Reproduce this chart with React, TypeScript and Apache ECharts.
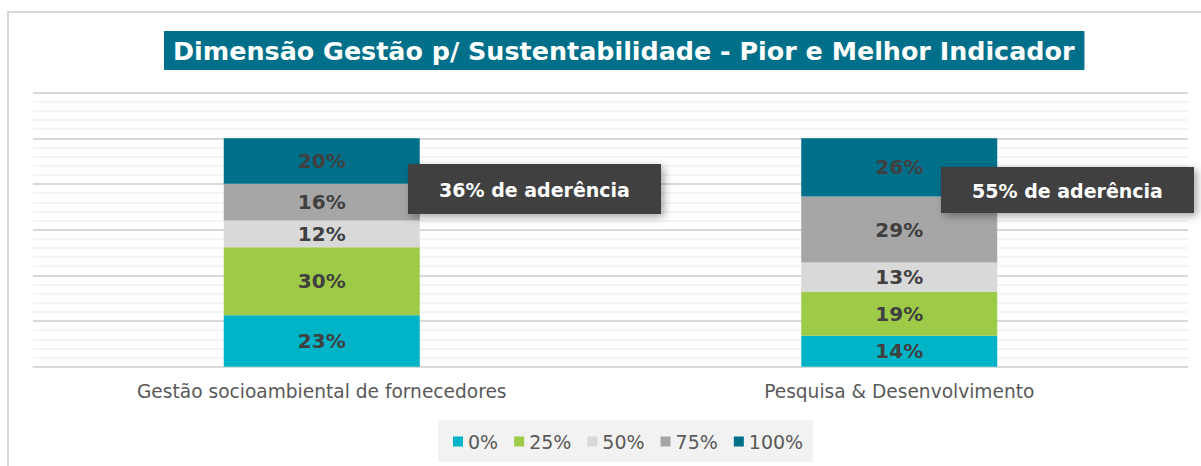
import React, { useEffect, useRef } from "react";
import * as echarts from "echarts";

const categories = ["Gestão socioambiental de fornecedores", "Pesquisa & Desenvolvimento"];
const seriesNames = ["0%", "25%", "50%", "75%", "100%"];
const values0 = [22.5, 13.6];
const values25 = [29.8, 19.1];
const values50 = [11.7, 12.9];
const values75 = [16.1, 28.9];
const values100 = [19.9, 25.5];
const adherence = [36, 55];
const colors = ["#00b4c8", "#9ecb47", "#d9d9d9", "#a6a6a6", "#00708a"];
const titleText = "Dimensão Gestão p/ Sustentabilidade - Pior e Melhor Indicador";

const FONT = "DejaVu Sans";

export default function App() {
  const ref = useRef<HTMLDivElement>(null);
  useEffect(() => {
    if (!ref.current) return;
    const chart = echarts.init(ref.current, undefined, { renderer: "svg" });
    const allValues = [values0, values25, values50, values75, values100];
    const series = seriesNames.map((name, i) => ({
      name,
      type: "bar",
      stack: "total",
      barWidth: 196,
      data: allValues[i],
      itemStyle: { color: colors[i] },
      label: {
        show: true,
        position: "inside",
        color: "#404040",
        fontFamily: FONT,
        fontWeight: "bold",
        fontSize: 20,
        formatter: (p: any) => Math.round(p.value) + "%",
      },
    }));
    const boxes = [
      { x: 408, y: 164, w: 253, h: 50 },
      { x: 941, y: 167, w: 253, h: 46 },
    ];
    const graphic: any[] = [
      {
        type: "rect",
        shape: { x: 8, y: 12, width: 1220, height: 480 },
        style: { fill: "none", stroke: "#d9d9d9", lineWidth: 2 },
        silent: true,
        z: 0,
      },
    ];
    boxes.forEach((b, i) => {
      graphic.push({
        type: "rect",
        shape: { x: b.x, y: b.y, width: b.w, height: b.h },
        style: {
          fill: "#404040",
          shadowBlur: 8,
          shadowOffsetX: 3,
          shadowOffsetY: 3,
          shadowColor: "rgba(0,0,0,0.35)",
        },
        z: 100,
      });
      graphic.push({
        type: "text",
        x: b.x + b.w / 2,
        y: b.y + b.h / 2 + 1,
        style: {
          text: adherence[i] + "% de aderência",
          fill: "#ffffff",
          font: `bold 19px '${FONT}'`,
          align: "center",
          verticalAlign: "middle",
        },
        z: 101,
      });
    });
    chart.setOption({
      animation: false,
      title: {
        text: titleText,
        left: 164,
        top: 31,
        backgroundColor: "#00708a",
        padding: [7, 10, 7, 9],
        textStyle: {
          color: "#ffffff",
          fontFamily: FONT,
          fontWeight: "bold",
          fontSize: 25.4,
          lineHeight: 25,
        },
      },
      legend: {
        data: seriesNames,
        left: 438,
        top: 420,
        backgroundColor: "#f2f2f2",
        padding: [12, 10, 11, 15],
        itemGap: 16,
        itemWidth: 10,
        itemHeight: 10,
        icon: "rect",
        textStyle: { color: "#595959", fontFamily: FONT, fontSize: 19 },
      },
      grid: { left: 33, right: 13, top: 92.7, bottom: 99.3, containLabel: false },
      xAxis: {
        type: "category",
        data: categories,
        axisTick: { show: false },
        axisLine: { lineStyle: { color: "#d9d9d9", width: 1.5 } },
        axisLabel: { color: "#595959", fontFamily: FONT, fontSize: 18.6, margin: 15 },
      },
      yAxis: {
        type: "value",
        min: 0,
        max: 120,
        interval: 20,
        axisLabel: { show: false },
        axisLine: { show: false },
        axisTick: { show: false },
        splitLine: { lineStyle: { color: "#d9d9d9", width: 2 } },
        minorTick: { show: false, splitNumber: 5 },
        minorSplitLine: { show: true, lineStyle: { color: "#f0f0f0", width: 1.5 } },
      },
      series,
      graphic,
    });
    return () => chart.dispose();
  }, []);
  return (
    <div
      ref={ref}
      style={{ position: "fixed", left: 0, top: 0, width: 1201, height: 466, background: "#ffffff" }}
    />
  );
}
